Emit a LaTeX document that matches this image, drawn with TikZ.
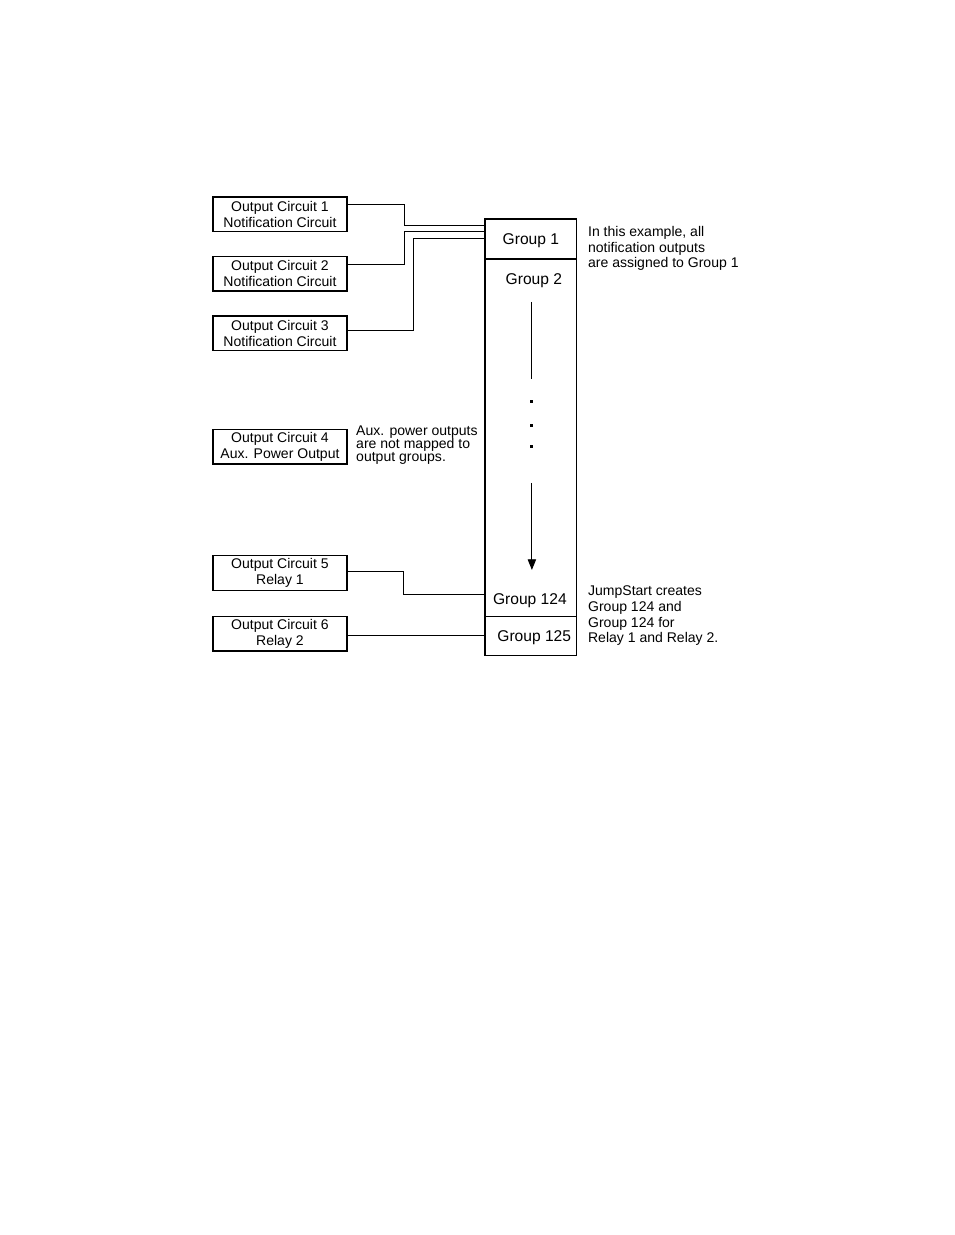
\documentclass[tikz,border=0pt]{standalone}
\usepackage{fontspec}
\setmainfont{Liberation Sans}
\usetikzlibrary{arrows, arrows.meta, positioning, calc}
\tikzstyle{arrow} = [line width=0.6pt,-{Triangle[length=2.4mm, width=1.9mm]}]
\tikzstyle{line} = [line width=0.6pt]
\tikzstyle{basic} = [rectangle, minimum width=30.2mm, minimum height=7.8mm, inner sep=0pt, outer sep=0pt, align=center, draw=black, line width=0.9pt, font=\fontsize{9}{10.3}\selectfont]
\tikzstyle{group} = [rectangle, minimum width=20.7mm, inner sep=0pt, outer sep=0pt, text depth=0pt, draw=black, line width=0.8pt, font=\fontsize{10}{12}\selectfont]
\tikzstyle{grplabel} = [inner sep=0pt, text depth=0pt, font=\fontsize{10}{12}\selectfont]
\tikzstyle{note} = [anchor=north west, inner sep=0pt, align=left, font=\fontsize{9}{10}\selectfont]
\tikzstyle{dotbox} = [rectangle, fill=black, minimum size=0.7mm, inner sep=0pt]

\begin{document}
\begin{tikzpicture}[x=0.2255mm, y=-0.2255mm]
\useasboundingbox (0,0) rectangle (954,1235);

\node (oc1) [basic, anchor=north west] at (213,197) {Output Circuit 1\\Notification Circuit};
\node (oc2) [basic, anchor=north, yshift=-5.6mm] at(oc1.south) {Output Circuit 2\\Notification Circuit};
\node (oc3) [basic, anchor=north, yshift=-5.6mm] at(oc2.south) {Output Circuit 3\\Notification Circuit};
\node (oc4) [basic, anchor=north, yshift=-17.8mm] at(oc3.south) {Output Circuit 4\\Aux. Power Output};
\node (oc5) [basic, anchor=north, yshift=-20.7mm] at(oc4.south) {Output Circuit 5\\Relay 1};
\node (oc6) [basic, anchor=north, yshift=-5.9mm] at(oc5.south) {Output Circuit 6\\Relay 2};

\node (grp1) [group, minimum height=9mm, anchor=north west] at (485,219) {Group 1};
\node (mid) [group, minimum height=80.7mm, anchor=north] at(grp1.south) {};
\node (grp125) [group, minimum height=8.8mm, anchor=north] at(mid.south) {\hspace{1.5mm}Group 125};
\node (grp2) [grplabel] at ($(mid.north)+(3,20)$) {Group 2};
\node (grp124) [grplabel] at ($(mid.south)+(-1,-18)$) {Group 124};

% dotted run of groups between 2 and 124
\coordinate (top0) at ($(mid.north)+(1,43)$);
\coordinate (top1) at ($(mid.north)+(1,120)$);
\node (dot1) [dotbox] at ($(mid.north)+(1,143)$) {};
\node (dot2) [dotbox] at ($(mid.north)+(1,167)$) {};
\node (dot3) [dotbox] at ($(mid.north)+(1,188)$) {};
\coordinate (bot0) at ($(mid.north)+(1,224)$);
\coordinate (bot1) at ($(mid.north)+(1,311)$);
\draw [line] (top0) -- (top1);
\draw [arrow] (bot0) -- (bot1);

\coordinate (in1) at ($(grp1.north west)+(0,6)$);
\coordinate (in2) at ($(grp1.north west)+(0,12)$);
\coordinate (in3) at ($(grp1.north west)+(0,19)$);
\coordinate (in5) at ($(mid.south west)+(0,-22)$);

\draw [line] ($(oc1.east)+(0,-10)$) -| ($(in1)+(-81,0)$) -- (in1);
\draw [line] ($(oc2.east)+(0,-9)$) -| ($(in2)+(-81,0)$) -- (in2);
\draw [line] ($(oc3.east)+(0,-3)$) -| ($(in3)+(-72,0)$) -- (in3);
\draw [line] ($(oc5.east)+(0,-2)$) -| ($(in5)+(-82,0)$) -- (in5);
\draw [line] ($(oc6.east)+(0,2)$) -- ($(oc6.east -| grp125.west)+(0,2)$);

\node (auxNote) [note, font=\fontsize{9}{8.4}\selectfont] at ($(oc4.north east)+(9,-4)$) {Aux. power outputs\\are not mapped to\\output groups.};
\node (grpNote) [note] at ($(grp1.north east)+(11,7)$) {In this example, all\\notification outputs\\are assigned to Group 1};
\node (jumpNote) [note] at ($(grp125.north east)+(11,-31)$) {JumpStart creates\\Group 124 and\\Group 124 for\\Relay 1 and Relay 2.};

\end{tikzpicture}
\end{document}
